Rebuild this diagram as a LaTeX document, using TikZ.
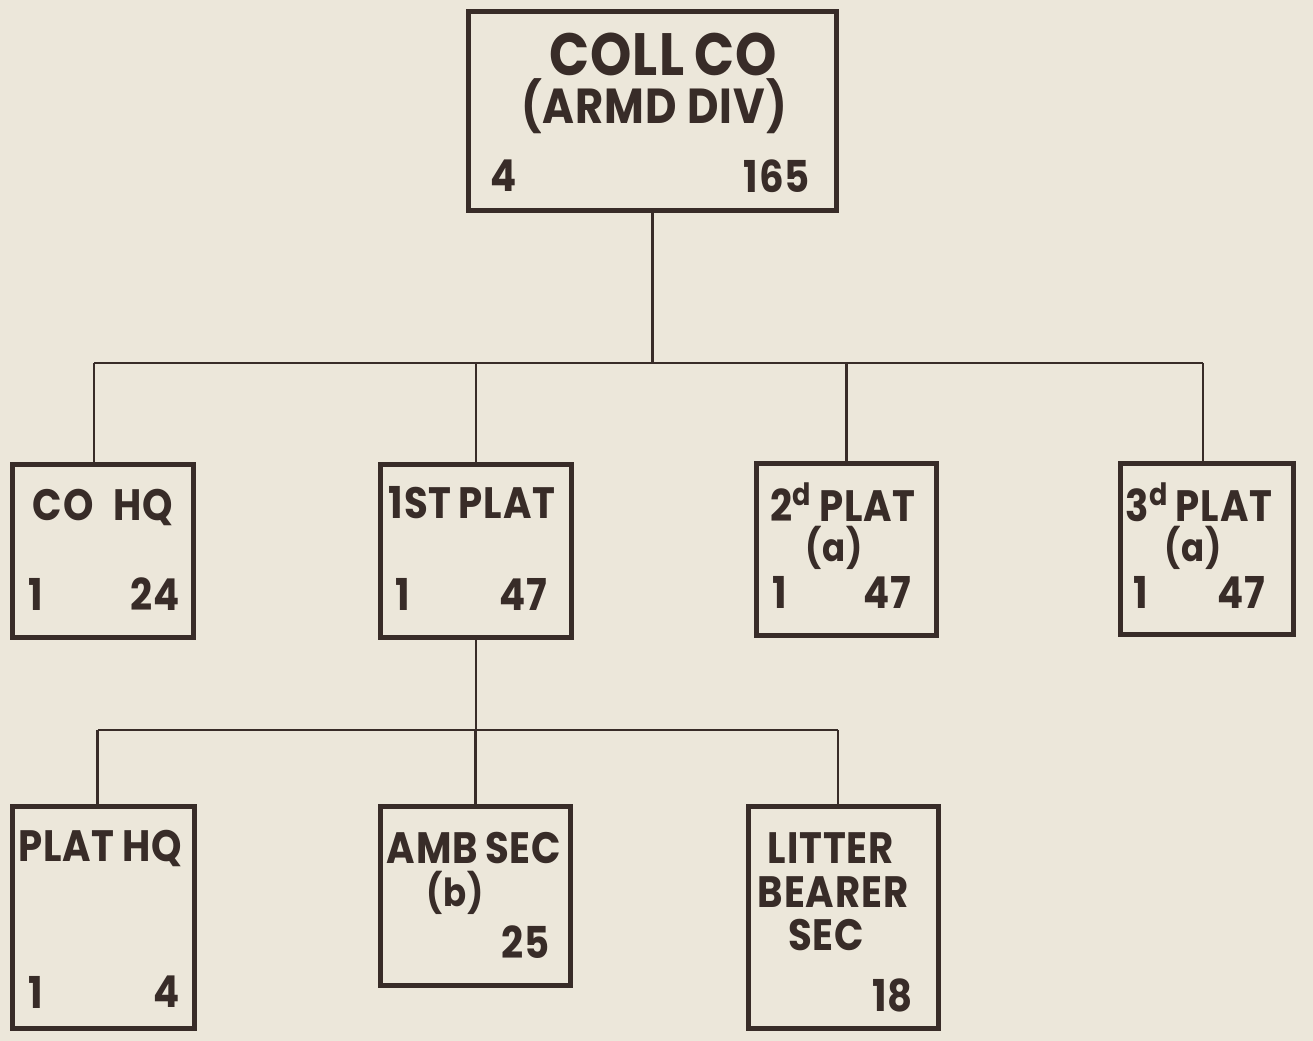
\documentclass[tikz,border=0pt]{standalone}
\usepackage{fontspec}
\setmainfont{Poppins}[FakeStretch=0.88,LetterSpace=2]
\usetikzlibrary{positioning}
\definecolor{paper}{RGB}{236,231,218}
\definecolor{ink}{RGB}{56,44,40}

\begin{document}
\begin{tikzpicture}[x=0.02cm,y=-0.02cm,
    unit/.style 2 args={draw=ink,line width=2.8pt,inner sep=0pt,minimum width=#1cm,minimum height=#2cm},
    big/.style={text=ink,inner sep=0pt,font=\bfseries\fontsize{34}{36}\selectfont},
    lbl/.style={text=ink,inner sep=0pt,font=\bfseries\fontsize{25}{28}\selectfont},
    sub/.style={lbl,font=\bfseries\fontsize{22}{24}\selectfont},
    wire/.style={draw=ink,line width=1.3pt}]
    \fill[paper] (0,0) rectangle (1313,1041);
    \useasboundingbox (0,0) rectangle (1313,1041);
    % company
    \node[unit={7.36}{3.98}] (coll) at (652.5,111) {};
    \node[big] (collT) at (663,54) {COLL\,CO};
    \node[lbl,font=\bfseries\fontsize{28}{30}\selectfont] (collS) at (654,106) {(ARMD DIV)};
    \node[lbl,anchor=west] (collO) at (490,176) {4};
    \node[lbl,anchor=east] (collE) at (810,176) {165};
    % platoons and hq
    \node[unit={3.62}{3.46}] (cohq) at (103,551) {};
    \node[lbl] (cohqT) at (103,507) {CO\hspace{0.45em}HQ};
    \node[lbl,anchor=west] (cohqO) at (28,594) {1};
    \node[lbl,anchor=east] (cohqE) at (180,594) {24};
    \node[unit={3.82}{3.46}] (plat1) at (476,551) {};
    \node[lbl] (plat1T) at (472,503) {1ST\,PLAT};
    \node[lbl,anchor=west] (plat1O) at (395,594) {1};
    \node[lbl,anchor=east] (plat1E) at (548,594) {47};
    \node[unit={3.6}{3.44}] (plat2) at (846.5,549.5) {};
    \node[lbl] (plat2T) at (843,502) {2\textsuperscript{d}\,PLAT};
    \node[sub] (plat2S) at (834,548) {(a)};
    \node[lbl,anchor=west] (plat2O) at (772,592) {1};
    \node[lbl,anchor=east] (plat2E) at (912,592) {47};
    \node[unit={3.46}{3.42}] (plat3) at (1207,549) {};
    \node[lbl] (plat3T) at (1199,502) {3\textsuperscript{d}\,PLAT};
    \node[sub] (plat3S) at (1193,548) {(a)};
    \node[lbl,anchor=west] (plat3O) at (1133,592) {1};
    \node[lbl,anchor=east] (plat3E) at (1266,592) {47};
    % sections of 1st plat
    \node[unit={3.64}{4.44}] (plathq) at (103.5,917.5) {};
    \node[lbl] (plathqT) at (100,848) {PLAT\,HQ};
    \node[lbl,anchor=west] (plathqO) at (28,992) {1};
    \node[lbl,anchor=east] (plathqE) at (180,992) {4};
    \node[unit={3.8}{3.58}] (amb) at (475.5,896) {};
    \node[lbl] (ambT) at (474,848) {AMB\,SEC};
    \node[sub] (ambS) at (455,893) {(b)};
    \node[lbl,anchor=east] (ambE) at (550,942) {25};
    \node[unit={3.8}{4.44}] (litter) at (843.5,917.5) {};
    \node[lbl] (litterT) at (831,848) {LITTER};
    \node[lbl] (litterS) at (833,892) {BEARER};
    \node[lbl] (litterU) at (826,935) {SEC};
    \node[lbl,anchor=east] (litterE) at (913,995) {18};
    % connectors
    \coordinate (busA) at (651,363);
    \coordinate (busB) at (474,730);
    \draw[wire] (coll.south) -- (coll.south |- busA);
    \draw[wire] ([xshift=-0.18cm]cohq.north |- busA) -- ([xshift=-0.08cm]plat3.north |- busA);
    \draw[wire] ([xshift=-0.18cm]cohq.north) -- ([xshift=-0.18cm]cohq.north |- busA);
    \foreach \u in {plat1,plat2} \draw[wire] (\u.north) -- (\u.north |- busA);
    \draw[wire] ([xshift=-0.08cm]plat3.north) -- ([xshift=-0.08cm]plat3.north |- busA);
    \draw[wire] (plat1.south) -- (plat1.south |- busB);
    \draw[wire] ([xshift=-0.12cm]plathq.north |- busB) -- ([xshift=-0.11cm]litter.north |- busB);
    \draw[wire] ([xshift=-0.12cm]plathq.north) -- ([xshift=-0.12cm]plathq.north |- busB);
    \draw[wire] (amb.north) -- (amb.north |- busB);
    \draw[wire] ([xshift=-0.11cm]litter.north) -- ([xshift=-0.11cm]litter.north |- busB);
  \end{tikzpicture}
\end{document}
